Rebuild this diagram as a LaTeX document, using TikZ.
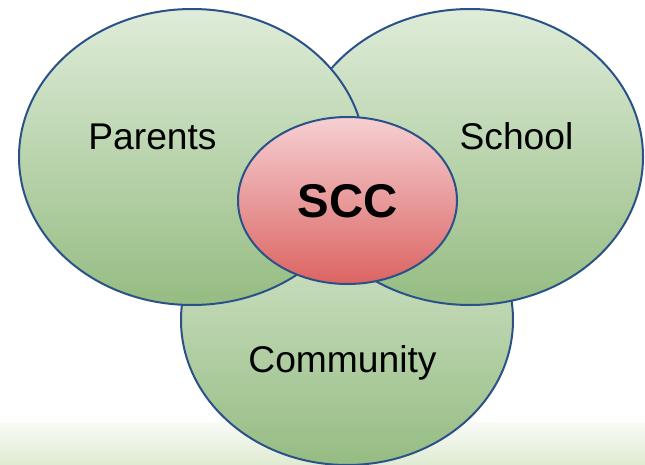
\documentclass[tikz,border=0pt]{standalone}
\usepackage{fontspec}
\setmainfont{Liberation Sans}
\definecolor{edge}{HTML}{2B5288}
\definecolor{gtop}{HTML}{DFECD9}
\definecolor{gbot}{HTML}{95BC82}
\definecolor{rtop}{HTML}{F6D0D3}
\definecolor{rbot}{HTML}{DB6462}
\definecolor{bandtop}{HTML}{F9FBF6}
\definecolor{bandbot}{HTML}{E0EBD3}
\tikzset{
  x=0.75pt,y=-0.75pt,
  blob/.style={ellipse,draw=edge,line width=1.5pt,inner sep=0pt,anchor=center},
  greenblob/.style={blob,top color=gtop,bottom color=gbot},
  redblob/.style={blob,top color=rtop,bottom color=rbot},
  lbl/.style={font=\fontsize{27.9pt}{32pt}\selectfont,text=black,inner sep=0pt}
}
\usetikzlibrary{shapes.geometric}
\begin{document}
\begin{tikzpicture}
\useasboundingbox (0,0) rectangle (645,464);
\fill[white] (0,0) rectangle (645,464);
\shade[top color=bandtop,bottom color=bandbot] (0,422) rectangle (645,464);
\begin{scope}
\clip (0,0) rectangle (645,464);
\node[greenblob,minimum width=332*0.75pt,minimum height=290*0.75pt] (community) at (347,320) {};
\node[greenblob,minimum width=346*0.75pt,minimum height=296*0.75pt] (school) at (470,157) {};
\node[greenblob,minimum width=346*0.75pt,minimum height=296*0.75pt] (parents) at (192,157) {};
\node[redblob,minimum width=219*0.75pt,minimum height=167*0.75pt] (scc) at (347.5,200.5) {};
\end{scope}
\node[lbl] (t1) at (152.5,136.5) {Parents};
\node[lbl] (t2) at (516.5,136.5) {School};
\node[lbl] (t3) at (342.5,363) {Community};
\node[lbl,font=\fontsize{35.5pt}{40pt}\selectfont\bfseries] (t4) at (347.5,201) {SCC};
\end{tikzpicture}
\end{document}
